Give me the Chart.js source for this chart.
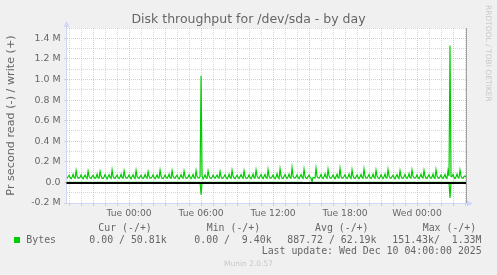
<!DOCTYPE html>
<html>
<head>
<meta charset="utf-8">
<script src="https://cdn.jsdelivr.net/npm/chart.js@4"></script>
<style>
  html, body { margin: 0; padding: 0; background: #f0f0f0; }
  #wrap { width: 497px; height: 275px; position: relative; }
</style>
</head>
<body>
<div id="wrap"><canvas id="c" width="497" height="275"></canvas></div>
<script>
// ---- Data (values in k bytes per second), 5-minute samples starting Mon 18:50 ----
const sampleStartMinute = -310;   // minutes relative to Tue 00:00
const sampleStepMinutes = 5;

const writeK = [
  38,55,70,48,36,52,78,46,40,115,60,42,
  41,52,74,45,35,56,72,49,38,110,57,44,
  37,58,68,47,39,50,80,44,42,108,62,40,
  40,54,76,50,34,55,74,48,39,121,58,43,
  39,57,71,46,37,53,79,45,41,112,61,41,
  42,53,73,49,35,57,75,47,38,116,56,44,
  38,56,69,44,38,51,77,50,40,105,59,42,
  41,55,75,47,36,54,73,46,43,119,62,40,
  37,52,72,48,39,56,81,44,39,113,58,43,
  40,58,70,45,34,52,76,49,41,109,60,41,
  39,54,74,50,37,55,78,47,38,115,57,44,
  42,56,1037,64,36,53,74,45,40,111,61,42,
  38,53,71,48,39,57,72,48,42,106,58,40,
  41,57,75,46,35,51,79,46,39,117,62,43,
  37,55,70,49,38,56,76,50,41,112,59,41,
  40,52,73,45,36,54,82,44,43,120,63,44,
  39,58,77,48,37,57,78,47,40,125,60,42,
  42,54,72,47,35,52,84,49,38,132,64,40,
  38,57,76,50,39,55,80,46,41,143,61,43,
  41,53,74,46,36,58,77,48,39,128,62,41,
  37,56,71,48,40,9.4,48,45,42,138,58,44,
  40,55,78,47,37,54,83,50,40,127,63,42,
  39,52,73,49,35,57,79,46,43,135,60,40,
  42,58,75,45,38,53,81,48,39,122,64,43,
  38,54,72,48,36,56,78,47,41,130,61,41,
  41,57,76,46,39,52,80,49,40,118,59,44,
  37,53,74,50,37,55,82,45,42,126,62,42,
  40,56,70,47,35,58,77,48,38,114,60,40,
  39,55,77,49,38,54,84,46,41,121,63,43,
  42,52,73,45,36,57,79,50,43,117,61,41,
  38,58,75,48,39,53,81,47,40,124,62,44,
  41,54,72,46,37,56,78,45,39,116,60,1330,
  58,57,76,49,36,55,80,48,42,120,63,42,
  40,56,64,50.81
];

const readK = [
  0,0,0,0,0,0,0,0,0,0,0,0,
  0,0,0,0,0,0,0,0,0,0,0,0,
  0,0,-6,0,0,0,0,0,0,0,0,0,
  0,0,-7,0,0,0,0,0,0,0,0,0,
  0,0,0,0,0,0,0,0,0,0,0,0,
  0,0,0,0,0,0,0,0,0,0,0,0,
  0,0,0,0,0,0,0,0,0,0,0,0,
  0,0,0,0,0,0,0,0,0,0,0,0,
  0,0,0,0,0,0,0,0,0,0,0,0,
  0,0,0,0,0,0,0,0,0,0,0,0,
  0,0,0,0,0,0,0,0,0,0,0,0,
  0,0,-120,0,0,0,0,0,0,0,0,0,
  0,0,-8,0,0,0,0,0,0,0,0,0,
  0,0,0,0,0,0,0,0,0,0,0,0,
  0,0,0,0,0,0,0,0,0,0,0,0,
  0,0,0,0,0,0,0,0,0,0,0,0,
  0,0,0,0,0,0,0,0,0,0,0,0,
  0,0,0,0,0,0,0,0,0,0,0,0,
  0,0,0,0,0,0,0,0,0,0,0,0,
  0,0,0,0,0,0,0,0,-6,-8,-7,-6,
  -8,-5,0,0,0,0,0,0,0,0,0,0,
  0,0,0,0,0,0,0,0,0,0,0,0,
  0,0,0,0,0,0,0,0,0,0,0,0,
  0,0,0,0,0,0,0,0,0,0,0,0,
  0,0,0,0,0,0,0,0,0,0,0,0,
  0,0,0,0,0,0,0,0,0,0,0,0,
  0,0,0,0,0,0,0,0,0,0,0,0,
  0,0,0,-7,0,0,0,0,0,0,0,0,
  0,0,0,0,0,0,0,0,0,0,0,0,
  0,0,-6,0,0,0,0,0,0,0,0,0,
  0,0,0,0,0,0,0,0,0,0,0,0,
  0,0,0,0,0,0,0,0,0,0,0,-151.43,
  0,0,0,0,0,0,0,0,0,0,0,0,
  0,0,0,0
];

// ---- Axis text ----
const xRangeMinutes = [-313, 1685];
const xLabelMinutes = [0, 360, 720, 1080, 1440];
const xLabels = ['Tue 00:00', 'Tue 06:00', 'Tue 12:00', 'Tue 18:00', 'Wed 00:00'];
const yRangeK = [-200, 1500];
const yLabelValuesK = [-200, 0, 200, 400, 600, 800, 1000, 1200, 1400];
const yLabels = ['-0.2 M', '0.0', '0.2 M', '0.4 M', '0.6 M', '0.8 M', '1.0 M', '1.2 M', '1.4 M'];

const titleText = 'Disk throughput for /dev/sda - by day';
const yTitleText = 'Pr second read (-) / write (+)';
const seriesName = 'Bytes';
const legendHeaders = ['Cur (-/+)', 'Min (-/+)', 'Avg (-/+)', 'Max (-/+)'];
const legendValues = ['0.00 / 50.81k', '0.00 /  9.40k', '887.72 / 62.19k', '151.43k/  1.33M'];
const lastUpdateText = 'Last update: Wed Dec 10 04:00:00 2025';
const footerText = 'Munin 2.0.57';
const sideText = 'RRDTOOL / TOBI OETIKER';

// ---- Build ----
const toPoints = arr => arr.map((v, i) => ({ x: sampleStartMinute + i * sampleStepMinutes, y: v }));
const GREEN = '#00cc00';
const FONT_COL = '#666666';
const AXIS_COL = '#cfd6f8';
const MINOR_COL = 'rgba(160,160,160,0.42)';
const MAJOR_COL = 'rgba(230,130,130,0.48)';

const muninPlugin = {
  id: 'munin',
  beforeDraw(chart) {
    const { ctx, chartArea: a } = chart;
    ctx.save();
    ctx.fillStyle = '#f0f0f0';
    ctx.fillRect(0, 0, chart.width, chart.height);
    ctx.fillStyle = '#ffffff';
    ctx.fillRect(a.left, a.top, a.right - a.left, a.bottom - a.top);
    ctx.restore();
  },
  afterDatasetsDraw(chart) {
    const { ctx, chartArea: a, scales } = chart;
    const y0 = scales.y.getPixelForValue(0);
    ctx.save();
    // zero rule
    ctx.strokeStyle = '#000000';
    ctx.lineWidth = 2;
    ctx.beginPath();
    ctx.moveTo(a.left, Math.round(y0) + 1);
    ctx.lineTo(a.right, Math.round(y0) + 1);
    ctx.stroke();
    // right frame
    ctx.strokeStyle = '#a0a0a0';
    ctx.lineWidth = 1;
    ctx.beginPath();
    ctx.moveTo(Math.round(a.right) + 0.5, a.top);
    ctx.lineTo(Math.round(a.right) + 0.5, a.bottom);
    ctx.stroke();
    // axis extension and arrows
    const bx = Math.round(a.bottom) + 0.5;
    const lx = Math.floor(a.left) + 0.5;
    ctx.strokeStyle = AXIS_COL;
    ctx.beginPath();
    ctx.moveTo(a.right, bx);
    ctx.lineTo(a.right + 4, bx);
    ctx.moveTo(lx, a.top);
    ctx.lineTo(lx, a.top - 2);
    ctx.stroke();
    ctx.fillStyle = AXIS_COL;
    ctx.beginPath();
    ctx.moveTo(a.right + 7, bx);
    ctx.lineTo(a.right + 1, bx - 3);
    ctx.lineTo(a.right + 1, bx + 3);
    ctx.closePath();
    ctx.fill();
    ctx.beginPath();
    ctx.moveTo(lx, a.top - 7);
    ctx.lineTo(lx - 3, a.top - 1);
    ctx.lineTo(lx + 3, a.top - 1);
    ctx.closePath();
    ctx.fill();
    ctx.restore();
  },
  afterDraw(chart) {
    const { ctx } = chart;
    ctx.save();
    // title
    ctx.fillStyle = FONT_COL;
    ctx.font = '12.5px "DejaVu Sans"';
    ctx.textAlign = 'center';
    ctx.textBaseline = 'middle';
    ctx.fillText(titleText, 248.5, 19.5);
    // legend
    ctx.font = '9.9px "DejaVu Sans Mono"';
    ctx.textAlign = 'left';
    const hx = [98.3, 206.7, 315, 422.7];
    const vx = [89.3, 194.3, 287.3, 392.3];
    legendHeaders.forEach((t, i) => ctx.fillText(t, hx[i], 228));
    legendValues.forEach((t, i) => ctx.fillText(t, vx[i], 240));
    ctx.fillText(seriesName, 26.3, 240);
    ctx.fillText(lastUpdateText, 261.7, 251.5);
    ctx.fillStyle = GREEN;
    ctx.fillRect(14, 237, 6, 6);
    // footer watermark
    ctx.fillStyle = '#c8c8c8';
    ctx.font = '7.5px "DejaVu Sans"';
    ctx.textAlign = 'center';
    ctx.fillText(footerText, 248.5, 264.5);
    // side text
    ctx.translate(488, 5);
    ctx.rotate(Math.PI / 2);
    ctx.textAlign = 'left';
    ctx.fillText(sideText, 0, 0);
    ctx.restore();
  }
};

new Chart(document.getElementById('c'), {
  type: 'line',
  data: {
    datasets: [
      { label: seriesName + ' read', data: toPoints(readK), borderColor: GREEN, borderWidth: 1.2, pointRadius: 0, tension: 0, fill: false },
      { label: seriesName + ' write', data: toPoints(writeK), borderColor: GREEN, borderWidth: 1.2, pointRadius: 0, tension: 0, fill: false }
    ]
  },
  options: {
    responsive: false,
    animation: false,
    devicePixelRatio: 1,
    layout: { padding: { top: 28, right: 31, bottom: 52, left: 0 } },
    plugins: { legend: { display: false }, tooltip: { enabled: false }, title: { display: false } },
    scales: {
      x: {
        type: 'linear',
        min: xRangeMinutes[0],
        max: xRangeMinutes[1],
        afterFit: s => { s.height = 20; },
        afterBuildTicks: s => {
          const t = [];
          for (let m = Math.ceil(xRangeMinutes[0] / 60) * 60; m <= xRangeMinutes[1]; m += 60) t.push({ value: m });
          s.ticks = t;
        },
        grid: {
          color: c => (c.tick && c.tick.value % 180 === 0) ? MAJOR_COL : MINOR_COL,
          tickColor: c => (c.tick && c.tick.value % 180 === 0) ? MAJOR_COL : MINOR_COL,
          lineWidth: 1,
          drawTicks: true,
          tickLength: 3
        },
        border: { color: AXIS_COL, width: 1, dash: [1, 1] },
        ticks: {
          autoSkip: false,
          maxRotation: 0,
          padding: 2,
          color: FONT_COL,
          font: { family: 'DejaVu Sans', size: 9.2 },
          callback: v => { const k = xLabelMinutes.indexOf(v); return k >= 0 ? xLabels[k] : ''; }
        }
      },
      y: {
        type: 'linear',
        min: yRangeK[0],
        max: yRangeK[1],
        afterFit: s => { s.width = 66.5; },
        afterBuildTicks: s => {
          const t = [];
          for (let v = yRangeK[0]; v <= yRangeK[1]; v += 100) t.push({ value: v });
          s.ticks = t;
        },
        grid: {
          color: c => (c.tick && c.tick.value % 200 === 0) ? MAJOR_COL : MINOR_COL,
          tickColor: c => (c.tick && c.tick.value % 200 === 0) ? MAJOR_COL : 'rgba(0,0,0,0)',
          lineWidth: 1,
          drawTicks: true,
          tickLength: 2
        },
        border: { color: AXIS_COL, width: 1, dash: [1, 1] },
        ticks: {
          autoSkip: false,
          padding: 4,
          color: FONT_COL,
          font: { family: 'DejaVu Sans', size: 9.4 },
          callback: v => { const k = yLabelValuesK.indexOf(v); return k >= 0 ? yLabels[k] : ''; }
        },
        title: {
          display: true,
          text: yTitleText,
          color: FONT_COL,
          font: { family: 'DejaVu Sans', size: 11.2 },
          padding: { top: 4, bottom: 0 }
        }
      }
    }
  },
  plugins: [muninPlugin]
});
</script>
</body>
</html>
